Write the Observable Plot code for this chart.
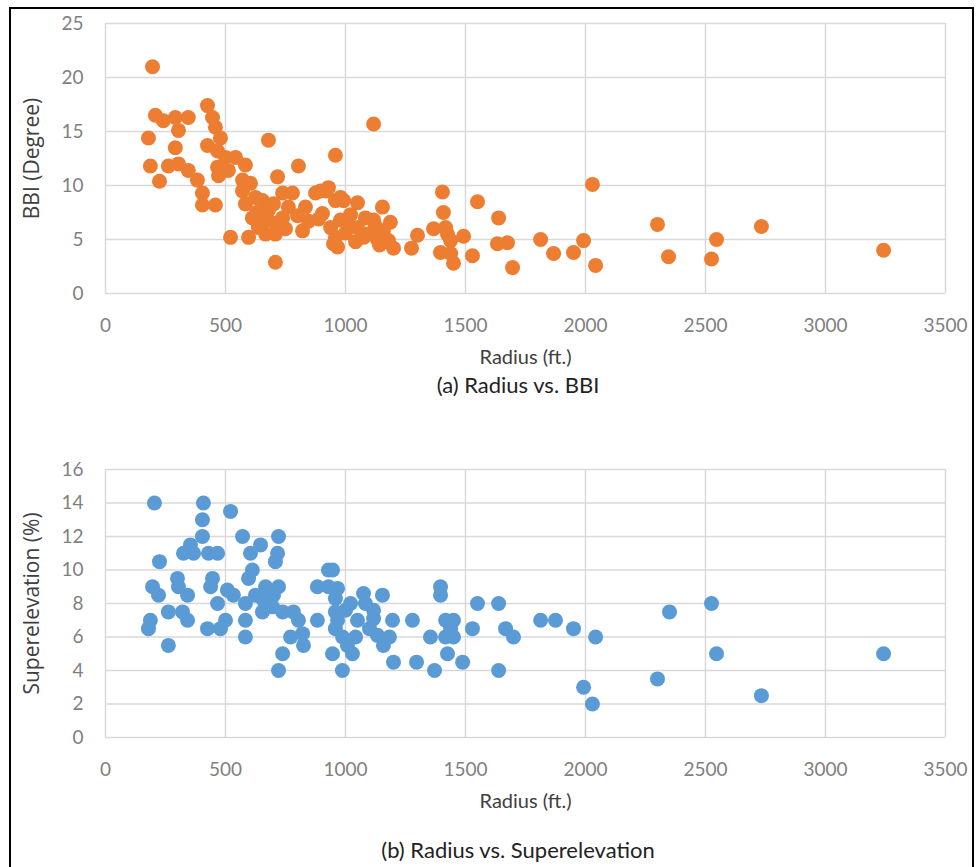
<!DOCTYPE html>
<html>
<head>
<meta charset="utf-8">
<script src="https://cdn.jsdelivr.net/npm/d3@7"></script>
<script src="https://cdn.jsdelivr.net/npm/@observablehq/plot@0.6"></script>
<style>
  html, body { margin: 0; padding: 0; background: #fff; overflow: hidden; }
  #page { position: relative; width: 976px; height: 867px; overflow: hidden; }
  #frame { position: absolute; left: 9px; top: 7px; width: 961px; height: 1000px; border: 2px solid #000; }
  .panel { position: absolute; left: 0; }
  .caption { position: absolute; left: 0; width: 1036px; text-align: center; font-family: Lato, "Open Sans", sans-serif; font-size: 22px; color: #222; line-height: 1; }
</style>
</head>
<body>
<div id="page">
  <div id="frame"></div>
  <div id="top" class="panel" style="top:0"></div>
  <div class="caption" style="top:374px">(a) Radius vs. BBI</div>
  <div id="bottom" class="panel" style="top:440px"></div>
  <div class="caption" style="top:839px">(b) Radius vs. Superelevation</div>
</div>
<script>
// Shared x axis
const radiusTicks = [0, 500, 1000, 1500, 2000, 2500, 3000, 3500];
const radiusTitle = "Radius (ft.)";

// (a) Radius (ft.) vs. BBI (degree)
const bbiRadius = [
  196, 179, 187, 225, 208, 241, 291, 345, 304, 291, 262, 304, 345, 383, 404, 404, 458, 425, 446, 458,
  479, 425, 467, 500, 542, 467, 512, 583, 471, 571, 604, 571, 583, 625, 679, 717, 804, 958, 521, 596,
  637, 679, 708, 738, 779, 833, 821, 708, 708, 896, 929, 958, 904, 958, 654, 667, 612, 738, 762, 667,
  629, 650, 700, 750, 800, 846, 1021, 1125, 1000, 1042, 1133, 1142,
  1117, 1404, 1550, 1638, 1813, 1867, 1950, 1992, 2029, 2042, 1696, 1529, 1450, 1408, 1417, 1367, 1300, 1275,
  1200, 1154, 1187, 1050, 979, 1396, 1492, 1438, 1633, 1675, 967, 1075, 1117, 950, 1092, 1158, 1179, 1008,
  1050, 979, 938, 888, 1083, 992, 1425, 1438, 917, 875,
  2300, 2346, 2525, 2546, 2733, 3242
];
const bbiValue = [
  21.0, 14.4, 11.8, 10.4, 16.5, 16.0, 16.3, 16.3, 15.1, 13.5, 11.8, 12.0, 11.4, 10.5, 9.3, 8.2, 8.2, 17.4, 16.3, 15.4,
  14.4, 13.7, 13.2, 12.6, 12.6, 11.7, 11.4, 11.9, 10.9, 10.5, 10.2, 9.5, 8.3, 8.9, 14.2, 10.8, 11.8, 12.8, 5.2, 5.2,
  6.1, 7.7, 6.5, 9.3, 9.3, 8.0, 5.8, 5.5, 2.9, 9.5, 9.8, 8.6, 7.4, 5.2, 8.6, 7.0, 7.0, 7.0, 8.0, 5.5,
  7.5, 6.2, 8.3, 6.0, 7.2, 6.7, 7.3, 6.2, 5.6, 4.8, 5.0, 4.5,
  15.7, 9.4, 8.5, 7.0, 5.0, 3.7, 3.8, 4.9, 10.1, 2.6, 2.4, 3.5, 2.8, 7.5, 6.1, 6.0, 5.4, 4.2,
  4.2, 8.0, 6.6, 8.4, 8.9, 3.8, 5.3, 4.9, 4.6, 4.7, 4.3, 5.2, 6.8, 4.6, 5.5, 5.8, 4.9, 6.5,
  6.1, 6.8, 6.1, 6.9, 7.0, 8.6, 5.5, 3.7, 9.5, 9.3,
  6.4, 3.4, 3.2, 5.0, 6.2, 4.0
];
const bbiTicks = [0, 5, 10, 15, 20, 25];
const bbiTitle = "BBI (Degree)";

// (b) Radius (ft.) vs. superelevation (%)
const superRadius = [
  204, 408, 404, 404, 521, 571, 646, 721, 717, 708, 604, 354, 325, 367, 429, 467, 225, 196, 221, 187,
  179, 262, 262, 300, 304, 342, 321, 342, 446, 438, 425, 479, 500, 467, 508, 533, 583, 596, 612, 583,
  583, 667, 721, 696, 654, 658, 738, 783, 804, 771, 825, 821, 738, 721, 883, 929, 883, 929, 958, 958,
  958, 946, 987, 625, 700, 946,
  967, 1075, 1154, 1021, 1117, 967, 1050, 1117, 1196, 1279, 1042, 1133, 1183, 1158, 1008, 1029, 1200, 1296, 1371, 1396,
  1396, 1417, 1450, 1438, 1354, 1417, 1450, 1425, 1488, 1529, 1550, 1638, 1667, 1700, 1638, 1813, 1875, 1950, 1992, 2029,
  2042, 1000, 1083, 1100, 988,
  2300, 2350, 2525, 2546, 2733, 3242
];
const superValue = [
  14.0, 14.0, 13.0, 12.0, 13.5, 12.0, 11.5, 12.0, 11.0, 10.5, 11.0, 11.5, 11.0, 11.0, 11.0, 11.0, 10.5, 9.0, 8.5, 7.0,
  6.5, 5.5, 7.5, 9.5, 9.0, 8.5, 7.5, 7.0, 9.5, 9.0, 6.5, 6.5, 7.0, 8.0, 8.8, 8.5, 8.0, 9.5, 10.0, 6.0,
  7.0, 9.0, 9.0, 7.8, 7.5, 8.2, 7.5, 7.5, 7.0, 6.0, 5.5, 6.2, 5.0, 4.0, 7.0, 10.0, 9.0, 9.0, 8.3, 7.5,
  6.5, 5.0, 4.0, 8.5, 8.5, 10.0,
  8.9, 8.6, 8.5, 8.0, 7.6, 7.0, 7.0, 7.1, 7.0, 7.0, 6.0, 6.1, 6.0, 5.5, 5.5, 5.0, 4.5, 4.5, 4.0, 9.0,
  8.5, 7.0, 7.0, 6.5, 6.0, 6.0, 6.0, 5.0, 4.5, 6.5, 8.0, 8.0, 6.5, 6.0, 4.0, 7.0, 7.0, 6.5, 3.0, 2.0,
  6.0, 7.6, 8.0, 6.5, 6.0,
  3.5, 7.5, 8.0, 5.0, 2.5, 5.0
];
const superTicks = [0, 2, 4, 6, 8, 10, 12, 14, 16];
const superTitle = "Superelevation (%)";

const ORANGE = "#ED7D31";
const BLUE = "#5B9BD5";
const GRID = "#d9d9d9";
const TICK_COLOR = "#7f7f7f";
const TITLE_COLOR = "#404040";
const FONT = "Lato, 'Open Sans', sans-serif";

function scatter({xs, ys, yTicks, yTitle, color, marginTop, marginBottom, height}) {
  const rows = xs.map((x, i) => ({x, y: ys[i]}));
  const yMax = yTicks[yTicks.length - 1];
  return Plot.plot({
    width: 976,
    height,
    marginTop,
    marginBottom,
    marginLeft: 105,
    marginRight: 31,
    style: {fontFamily: FONT, background: "transparent", overflow: "visible"},
    x: {domain: [0, 3500]},
    y: {domain: [0, yMax]},
    marks: [
      Plot.gridX(radiusTicks, {stroke: GRID, strokeOpacity: 1, strokeWidth: 1.5}),
      Plot.gridY(yTicks, {stroke: GRID, strokeOpacity: 1, strokeWidth: 1.5}),
      Plot.dot(rows, {x: "x", y: "y", r: 7.5, fill: color, stroke: "none"}),
      Plot.axisX(radiusTicks, {tickSize: 0, tickPadding: 25, fontSize: 19, fill: TICK_COLOR,
        tickFormat: d => String(d), label: null}),
      Plot.axisY(yTicks, {tickSize: 0, tickPadding: 22, fontSize: 19, fill: TICK_COLOR,
        tickFormat: d => String(d), label: null}),
      Plot.text([radiusTitle], {frameAnchor: "bottom", dy: 70, fontSize: 20, fill: TITLE_COLOR}),
      Plot.text([yTitle], {frameAnchor: "left", textAnchor: "middle", dx: -73, rotate: -90,
        fontSize: 21, fontFamily: "'Open Sans', sans-serif", fill: TITLE_COLOR})
    ]
  });
}

document.getElementById("top").append(scatter({
  xs: bbiRadius, ys: bbiValue, yTicks: bbiTicks, yTitle: bbiTitle, color: ORANGE,
  marginTop: 23, marginBottom: 80, height: 373
}));

document.getElementById("bottom").append(scatter({
  xs: superRadius, ys: superValue, yTicks: superTicks, yTitle: superTitle, color: BLUE,
  marginTop: 29, marginBottom: 80, height: 377
}));
</script>
</body>
</html>
